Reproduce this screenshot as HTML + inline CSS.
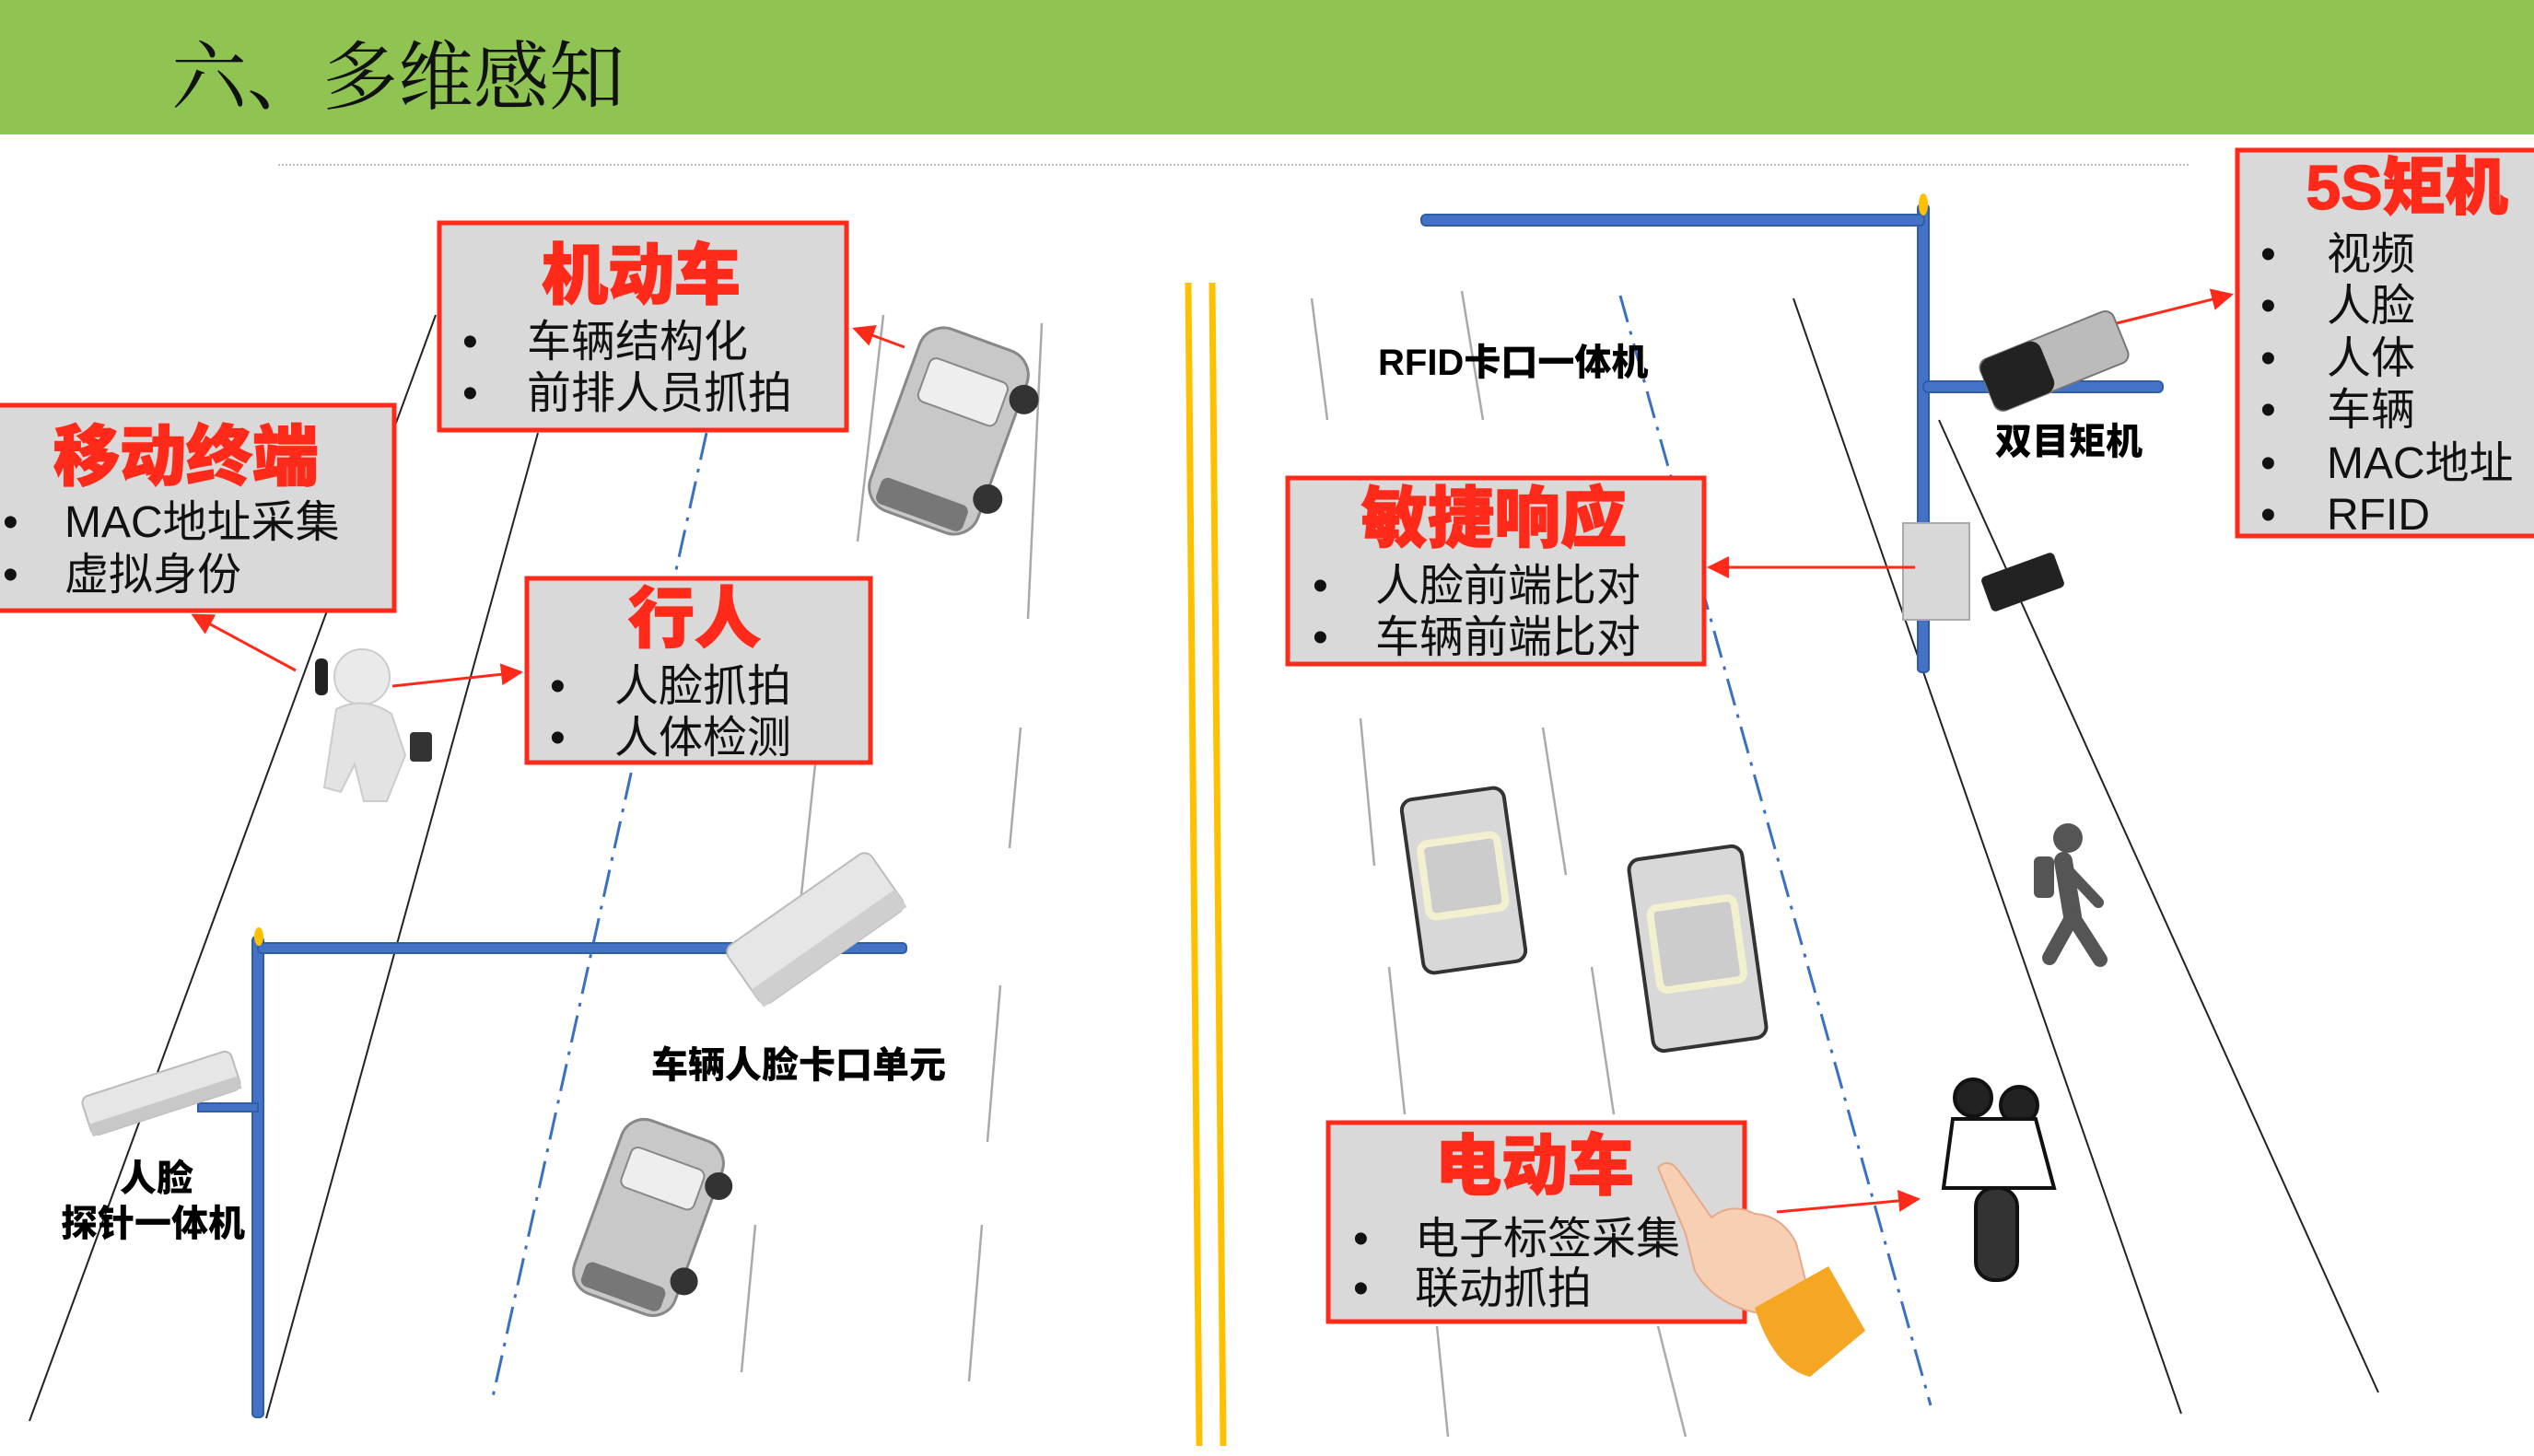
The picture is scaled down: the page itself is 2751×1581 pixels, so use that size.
<!DOCTYPE html>
<html><head><meta charset="utf-8"><style>
html,body{margin:0;padding:0;background:#fff;}
svg{display:block;}
.h{font-family:"Liberation Sans","Noto Sans CJK SC",sans-serif;font-weight:900;fill:#ff2a1a;stroke:#ff2a1a;stroke-width:1.5;text-anchor:middle;}
.b{font-family:"Liberation Sans","Noto Sans CJK SC",sans-serif;font-size:48px;fill:#111;}
.l{font-family:"Liberation Sans","Noto Sans CJK SC",sans-serif;font-weight:900;font-size:40px;fill:#000;}
</style></head><body>
<svg width="2751" height="1581" viewBox="0 0 2751 1581" xmlns="http://www.w3.org/2000/svg">
<defs>
<marker id="ar" markerWidth="8" markerHeight="8" refX="7" refY="4" orient="auto" markerUnits="strokeWidth"><path d="M0,0 L8,4 L0,8 z" fill="#ff2a1a"/></marker>
</defs>
<rect x="0" y="0" width="2751" height="146" fill="#8fc453"/>
<text x="186" y="112" font-family="'Liberation Serif','Noto Serif CJK SC',serif" font-size="82" fill="#111">六、多维感知</text>
<line x1="302" y1="179" x2="2377" y2="179" stroke="#bbb" stroke-width="2" stroke-dasharray="2,2"/>

<g stroke="#222" stroke-width="2" fill="none">
<line x1="473" y1="342" x2="32" y2="1543"/>
<line x1="584" y1="470" x2="289" y2="1540"/>
<line x1="1947" y1="324" x2="2368" y2="1535"/>
<line x1="2105" y1="456" x2="2582" y2="1512"/>
</g>
<g stroke="#aaa" stroke-width="2.5" fill="none">
<line x1="959" y1="342" x2="931" y2="588"/>
<line x1="1131" y1="351" x2="1116" y2="672"/>
<line x1="1108" y1="790" x2="1096" y2="921"/>
<line x1="1086" y1="1070" x2="1072" y2="1240"/>
<line x1="1066" y1="1330" x2="1052" y2="1500"/>
<line x1="885" y1="830" x2="868" y2="990"/>
<line x1="820" y1="1330" x2="805" y2="1490"/>
<line x1="1424" y1="324" x2="1441" y2="456"/>
<line x1="1587" y1="316" x2="1610" y2="456"/>
<line x1="1477" y1="780" x2="1492" y2="940"/>
<line x1="1675" y1="790" x2="1700" y2="950"/>
<line x1="1508" y1="1050" x2="1525" y2="1210"/>
<line x1="1728" y1="1050" x2="1752" y2="1210"/>
<line x1="1800" y1="1440" x2="1830" y2="1560"/>
<line x1="1560" y1="1440" x2="1572" y2="1560"/>
</g>
<g stroke="#3a6fc4" stroke-width="3" fill="none" stroke-dasharray="30,10,4,10">
<line x1="767" y1="470" x2="535" y2="1517"/>
<line x1="1759" y1="321" x2="2096" y2="1526"/>
</g>
<line x1="1290" y1="307" x2="1302" y2="1570" stroke="#ffc000" stroke-width="7"/>
<line x1="1316" y1="307" x2="1328" y2="1570" stroke="#ffc000" stroke-width="7"/>

<g stroke="#2f5ea8" stroke-width="2" fill="#4472c4">
<rect x="274" y="1017" width="12" height="522" rx="4"/>
<rect x="280" y="1024" width="704" height="11" rx="4"/>
<rect x="215" y="1198" width="65" height="9"/>
</g>
<ellipse cx="281" cy="1017" rx="5" ry="10" fill="#ffc000"/>
<g stroke="#2f5ea8" stroke-width="2" fill="#4472c4">
<rect x="2082" y="222" width="12" height="508" rx="4"/>
<rect x="1543" y="233" width="546" height="12" rx="5"/>
<rect x="2088" y="414" width="260" height="12" rx="5"/>
</g>
<ellipse cx="2088" cy="222" rx="5" ry="12" fill="#ffc000"/>

<g transform="translate(885,1008) rotate(-35)">
<rect x="-95" y="-38" width="190" height="76" rx="10" fill="#e6e6e6" stroke="#bbb" stroke-width="2"/>
<rect x="-95" y="15" width="190" height="23" fill="#cfcfcf"/>
</g>
<g transform="translate(175,1187) rotate(-18)">
<rect x="-85" y="-22" width="170" height="44" rx="8" fill="#e6e6e6" stroke="#bbb" stroke-width="2"/>
<rect x="-85" y="8" width="170" height="14" fill="#c8c8c8"/>
</g>
<g transform="translate(1030,468) rotate(20)">
<rect x="-62" y="-105" width="124" height="210" rx="28" fill="#c8c8c8" stroke="#888" stroke-width="3"/>
<rect x="-45" y="-70" width="90" height="50" rx="8" fill="#eee" stroke="#888" stroke-width="2"/>
<rect x="-50" y="70" width="100" height="30" rx="8" fill="#777"/>
<circle cx="65" cy="-60" r="16" fill="#333"/><circle cx="65" cy="55" r="16" fill="#333"/>
</g>
<g transform="translate(704,1322) rotate(20)">
<rect x="-58" y="-100" width="116" height="200" rx="26" fill="#c8c8c8" stroke="#888" stroke-width="3"/>
<rect x="-42" y="-68" width="84" height="46" rx="8" fill="#eee" stroke="#888" stroke-width="2"/>
<rect x="-46" y="66" width="92" height="28" rx="8" fill="#777"/>
<circle cx="60" cy="-58" r="15" fill="#333"/><circle cx="60" cy="52" r="15" fill="#333"/>
</g>
<g>
<circle cx="393" cy="735" r="30" fill="#eaeaea" stroke="#ccc" stroke-width="2"/>
<path d="M365,770 Q395,755 425,775 L440,820 L420,870 L395,870 L385,830 L370,860 L352,855 Z" fill="#e3e3e3" stroke="#ccc" stroke-width="2"/>
<rect x="342" y="715" width="14" height="40" rx="6" fill="#222"/>
<rect x="445" y="795" width="24" height="32" rx="4" fill="#333"/>
</g>
<g transform="translate(1589,956) rotate(-8)">
<rect x="-56" y="-95" width="112" height="190" rx="12" fill="#d8d8d8" stroke="#333" stroke-width="4"/>
<rect x="-42" y="-45" width="84" height="80" rx="8" fill="#ccc" stroke="#f3f0d0" stroke-width="8"/>
</g>
<g transform="translate(1843,1030) rotate(-8)">
<rect x="-62" y="-105" width="124" height="210" rx="12" fill="#d8d8d8" stroke="#333" stroke-width="4"/>
<rect x="-46" y="-50" width="92" height="90" rx="8" fill="#ccc" stroke="#f3f0d0" stroke-width="8"/>
</g>
<g fill="#555" stroke="#555" stroke-linecap="round">
<circle cx="2245" cy="910" r="16" stroke="none"/>
<line x1="2240" y1="935" x2="2250" y2="995" stroke-width="20"/>
<line x1="2250" y1="995" x2="2225" y2="1040" stroke-width="16"/>
<line x1="2250" y1="995" x2="2280" y2="1042" stroke-width="16"/>
<line x1="2245" y1="945" x2="2278" y2="980" stroke-width="12"/>
<rect x="2208" y="930" width="22" height="45" rx="6" stroke="none"/>
</g>
<g fill="#fff" stroke="#111" stroke-width="4">
<circle cx="2142" cy="1192" r="20" fill="#222"/>
<circle cx="2192" cy="1200" r="20" fill="#222"/>
<path d="M2120,1215 L2210,1215 L2230,1290 L2110,1290 Z"/>
<rect x="2145" y="1290" width="45" height="100" rx="20" fill="#333"/>
</g>
<g transform="translate(2230,392) rotate(-22)">
<rect x="-78" y="-30" width="156" height="60" rx="10" fill="#bbb" stroke="#777" stroke-width="2"/>
<rect x="-78" y="-30" width="70" height="60" rx="12" fill="#222"/>
</g>
<rect x="2066" y="568" width="72" height="105" fill="#d8d8d8" stroke="#aaa" stroke-width="2"/>
<g transform="translate(2196,632) rotate(-20)"><rect x="-42" y="-20" width="84" height="40" rx="5" fill="#222"/></g>

<g stroke="#ff2a1a" stroke-width="3" fill="none" marker-end="url(#ar)">
<line x1="982" y1="377" x2="928" y2="357"/>
<line x1="321" y1="728" x2="210" y2="668"/>
<line x1="426" y1="745" x2="565" y2="730"/>
<line x1="2298" y1="351" x2="2422" y2="320"/>
<line x1="2079" y1="616" x2="1856" y2="616"/>
<line x1="1929" y1="1316" x2="2082" y2="1302"/>
</g>

<g fill="#d9d9d9" stroke="#ff2a1a" stroke-width="5">
<rect x="-5" y="440" width="433" height="223"/>
<rect x="477" y="242" width="442" height="225"/>
<rect x="572" y="628" width="373" height="200"/>
<rect x="2429" y="163" width="330" height="419"/>
<rect x="1398" y="519" width="452" height="202"/>
<rect x="1442" y="1219" width="452" height="216"/>
</g>

<text class="h" x="202" y="521" font-size="72">移动终端</text>
<text class="b" x="3" y="583">•</text><text class="b" x="70" y="583">MAC地址采集</text>
<text class="b" x="3" y="640">•</text><text class="b" x="70" y="640">虚拟身份</text>

<text class="h" x="696" y="324" font-size="72">机动车</text>
<text class="b" x="502" y="387">•</text><text class="b" x="572" y="387">车辆结构化</text>
<text class="b" x="502" y="443">•</text><text class="b" x="572" y="443">前排人员抓拍</text>

<text class="h" x="754" y="697" font-size="72">行人</text>
<text class="b" x="597" y="761">•</text><text class="b" x="667" y="761">人脸抓拍</text>
<text class="b" x="597" y="817">•</text><text class="b" x="667" y="817">人体检测</text>

<text class="h" x="2613" y="227" font-size="68">5S矩机</text>
<g class="b">
<text x="2454" y="292">•</text><text x="2526" y="292">视频</text>
<text x="2454" y="348">•</text><text x="2526" y="348">人脸</text>
<text x="2454" y="405">•</text><text x="2526" y="405">人体</text>
<text x="2454" y="461">•</text><text x="2526" y="461">车辆</text>
<text x="2454" y="519">•</text><text x="2526" y="519">MAC地址</text>
<text x="2454" y="575">•</text><text x="2526" y="575">RFID</text>
</g>

<text class="h" x="1622" y="588" font-size="72">敏捷响应</text>
<text class="b" x="1425" y="652">•</text><text class="b" x="1493" y="652">人脸前端比对</text>
<text class="b" x="1425" y="708">•</text><text class="b" x="1493" y="708">车辆前端比对</text>

<text class="h" x="1666" y="1291" font-size="72">电动车</text>
<text class="b" x="1469" y="1361">•</text><text class="b" x="1536" y="1361">电子标签采集</text>
<text class="b" x="1469" y="1415">•</text><text class="b" x="1536" y="1415">联动抓拍</text>

<!-- hand over box -->
<g>
<path d="M1800,1268 Q1812,1255 1825,1275 L1858,1322 Q1880,1305 1905,1318 Q1935,1320 1950,1350 L1965,1410 Q1940,1430 1905,1425 Q1860,1415 1840,1380 L1830,1340 Z" fill="#f7cfb3" stroke="#e6a98a" stroke-width="2"/>
<path d="M1905,1420 L1985,1375 L2025,1445 L1965,1495 Q1925,1485 1905,1420 Z" fill="#f5a623"/>
</g>

<text class="l" x="1496" y="407">RFID卡口一体机</text>
<text class="l" x="2166" y="493">双目矩机</text>
<text class="l" x="707" y="1170">车辆人脸卡口单元</text>
<text class="l" x="130" y="1293">人脸</text>
<text class="l" x="66" y="1342">探针一体机</text>
</svg>
</body></html>
